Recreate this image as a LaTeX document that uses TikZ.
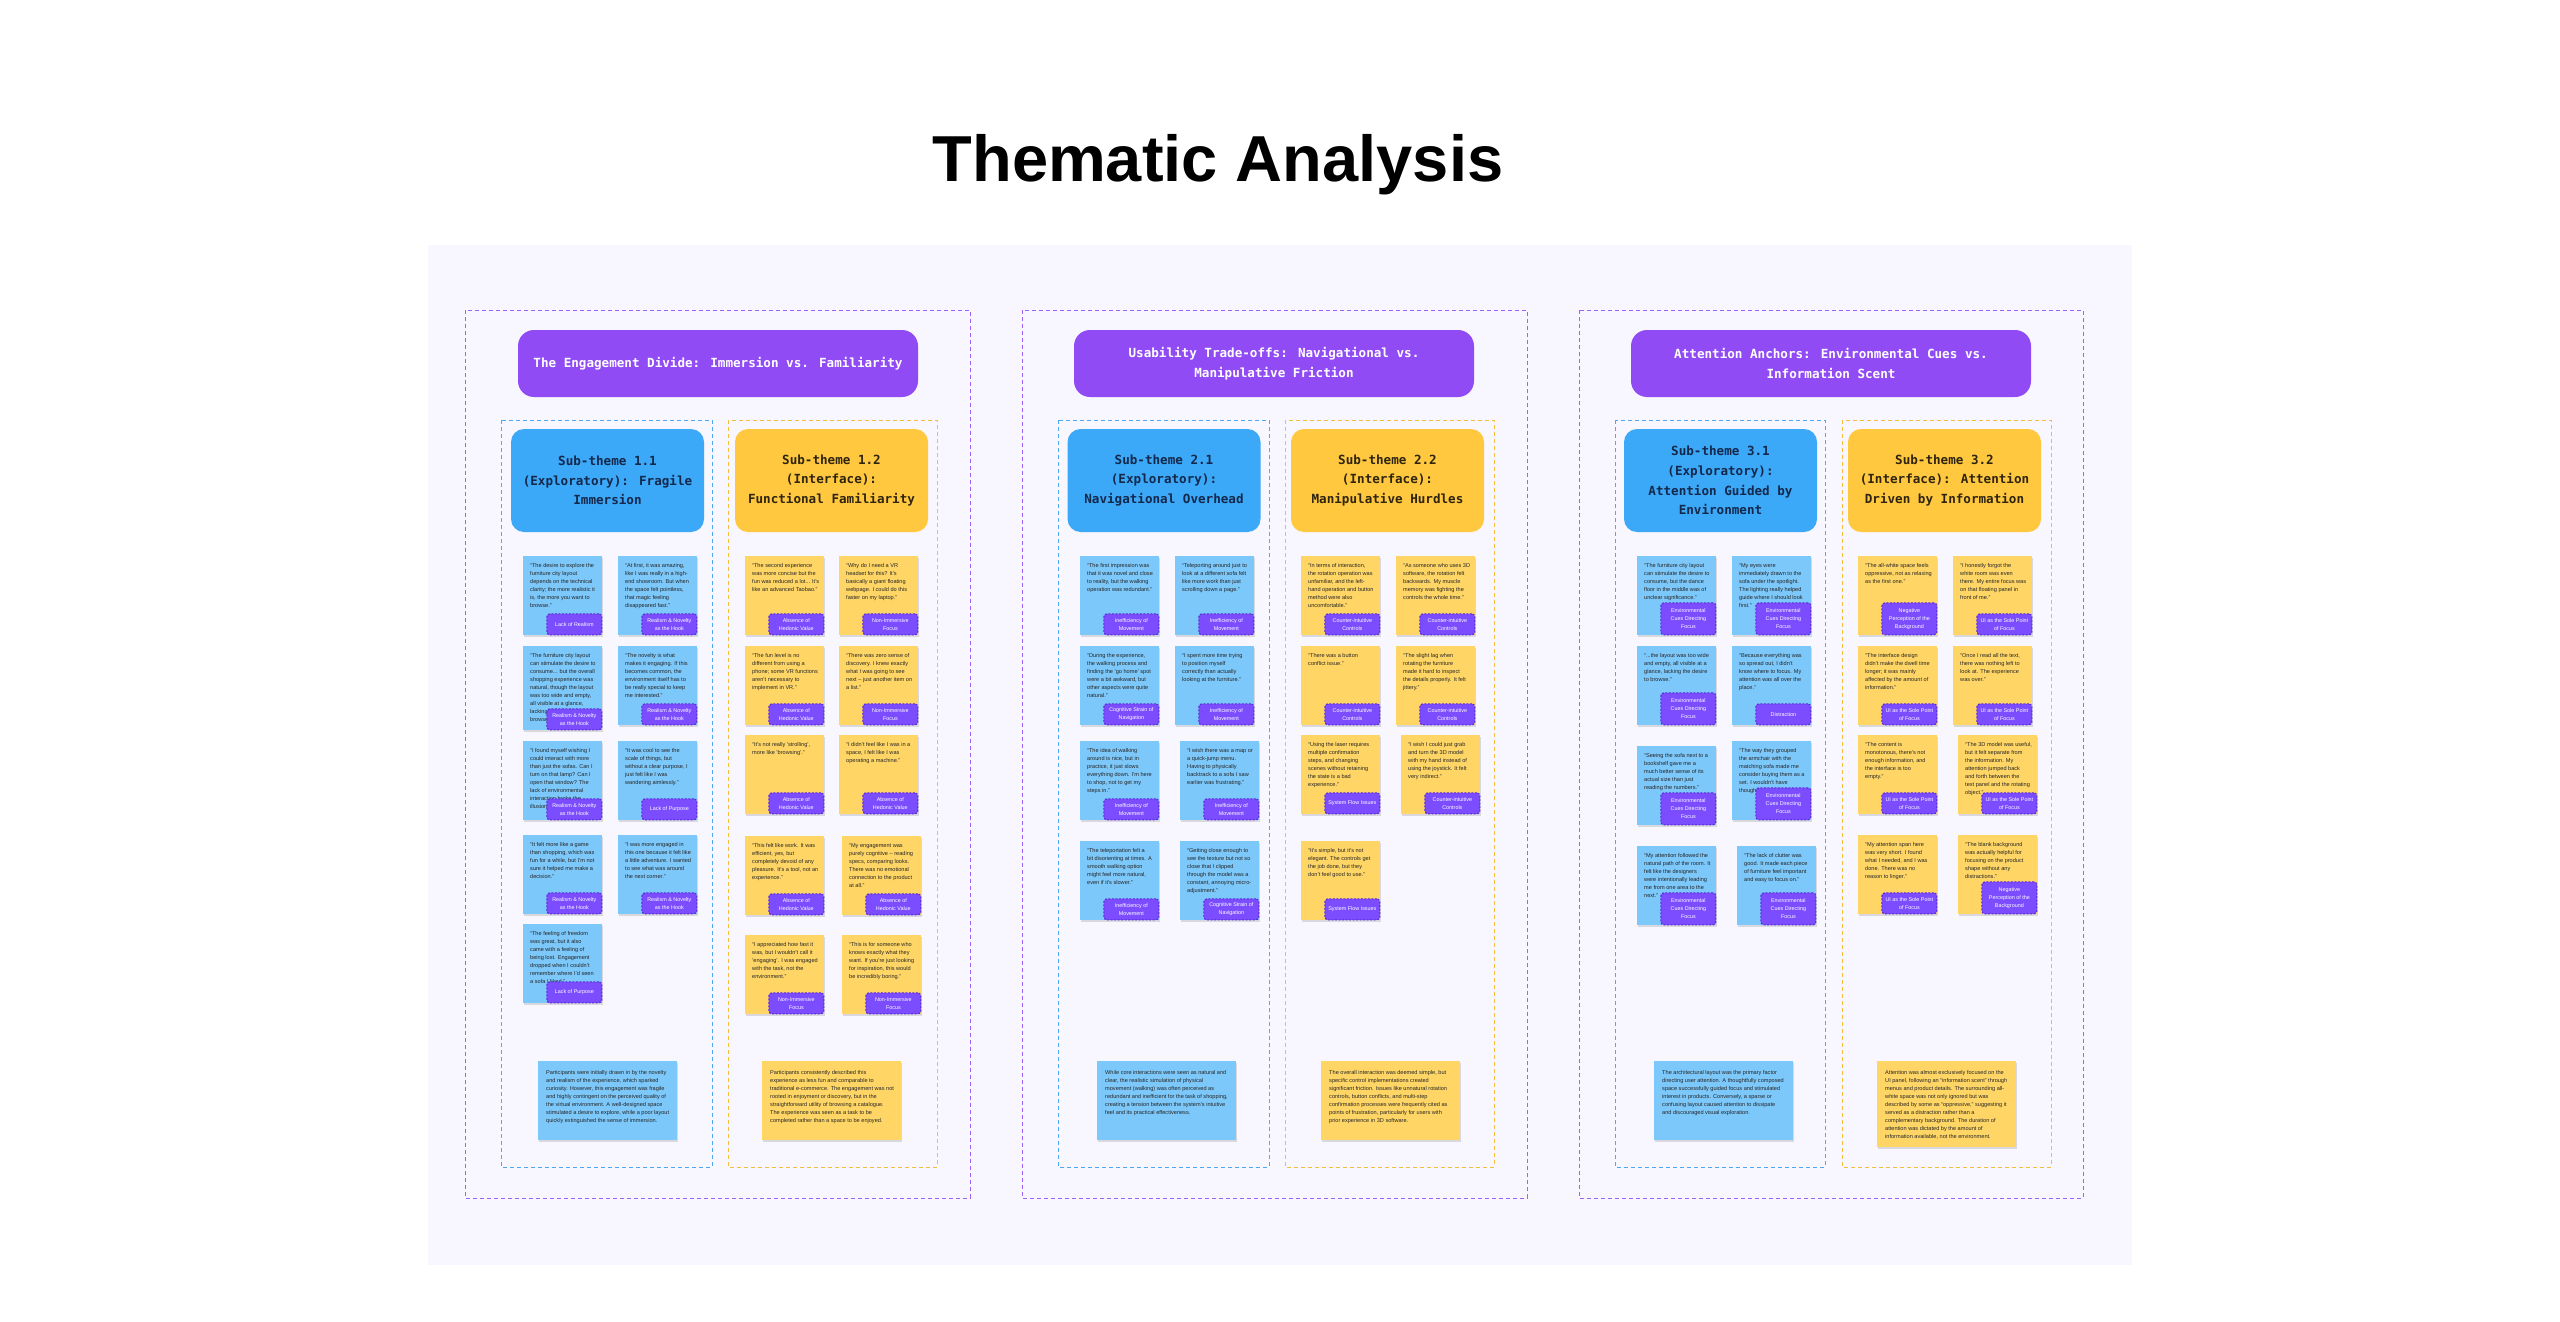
\documentclass[tikz,border=0pt]{standalone}
\usepackage{fontspec}
\setmainfont{Liberation Sans}
\newfontfamily\monof{DejaVu Sans Mono}
\usetikzlibrary{shadows}
\definecolor{panelbg}{HTML}{F8F6FE}
\definecolor{noteblue}{HTML}{7DC8FA}
\definecolor{noteyellow}{HTML}{FFD666}
\definecolor{headblue}{HTML}{3BA9F8}
\definecolor{headyellow}{HTML}{FFC83E}
\definecolor{pillpurple}{HTML}{914BF5}
\definecolor{tagpurple}{HTML}{7C4DFF}
\definecolor{tagdark}{HTML}{5A2BD8}
\definecolor{themedash}{HTML}{9D63F5}
\definecolor{coldashblue}{HTML}{4DA8F2}
\definecolor{coldashyellow}{HTML}{F5BE3C}
\definecolor{notetextc}{HTML}{262626}
\definecolor{navytext}{HTML}{14284B}
\definecolor{browntext}{HTML}{2E2410}
\newcommand{\stk}[8]{%
  \node[#4, minimum height=#5pt, anchor=north west] (#1) at (#2,#3) {};
  \node[notetext, anchor=north west] (#1-t) at ([xshift=7pt,yshift=-7pt]#1.north west) {#6};
  \node[tagbox, minimum height=#8pt, anchor=south east] (#1-g) at (#1.south east) {#7};
}
\begin{document}
\begin{tikzpicture}[x=1pt,y=-1pt,
  notebase/.style={minimum width=79pt, inner sep=0pt, drop shadow={shadow xshift=0.4pt, shadow yshift=-1.6pt, opacity=0.12, fill=black}},
  bnote/.style={notebase, fill=noteblue},
  ynote/.style={notebase, fill=noteyellow},
  notetext/.style={inner sep=0pt, align=left, text=notetextc, font=\fontsize{5.6}{8}\selectfont},
  tagbox/.style={fill=tagpurple, draw=tagdark, dash pattern=on 2pt off 1.5pt, line width=1.1pt, rounded corners=3pt, minimum width=55pt, inner sep=0pt, align=center, text=white, font=\fontsize{5.4}{8}\selectfont},
  sumbox/.style={minimum width=139pt, inner sep=0pt, drop shadow={shadow xshift=0.4pt, shadow yshift=-1.6pt, opacity=0.12, fill=black}},
  pill/.style={fill=pillpurple, rounded corners=16pt, minimum width=400pt, minimum height=67pt, inner sep=0pt, align=center, text=white, font=\monof\bfseries\fontsize{12.6}{19.6}\selectfont},
  bhead/.style={fill=headblue, rounded corners=13pt, minimum width=193pt, minimum height=103pt, inner sep=0pt, align=center, text=navytext, font=\monof\bfseries\fontsize{12.6}{19.6}\selectfont},
  yhead/.style={bhead, fill=headyellow, text=browntext},
  themebox/.style={draw=themedash, dash pattern=on 4pt off 3pt, line width=1pt},
  bcol/.style={draw=coldashblue, dash pattern=on 4pt off 3pt, line width=1pt},
  ycol/.style={draw=coldashyellow, dash pattern=on 4pt off 3pt, line width=1pt}
]
\useasboundingbox (0,0) rectangle (2560,1322);
\fill[white] (0,0) rectangle (2560,1322);
\node[anchor=base, font=\fontsize{65}{78}\selectfont\bfseries] (title) at (1218,181) {Thematic Analysis};
\fill[panelbg] (428,245) rectangle (2132,1265);

% theme boxes
\draw[themebox] (465,310) rectangle (970,1198);
\draw[themebox] (1022,310) rectangle (1527,1198);
\draw[themebox] (1579,310) rectangle (2083,1198);
\node[pill] (th1) at (718,363.5) {The Engagement Divide: Immersion vs. Familiarity};
\node[pill] (th2) at (1274,363.5) {Usability Trade-offs: Navigational vs.\\Manipulative Friction};
\node[pill] (th3) at (1831,363.5) {Attention Anchors: Environmental Cues vs.\\Information Scent};

% sub-theme columns
\draw[bcol] (501,420) rectangle (712,1167);
\draw[ycol] (728,420) rectangle (937,1167);
\draw[bcol] (1058,420) rectangle (1269,1167);
\draw[ycol] (1285,420) rectangle (1494,1167);
\draw[bcol] (1615,420) rectangle (1825,1167);
\draw[ycol] (1842,420) rectangle (2051,1167);
\node[bhead] (st11) at (607.5,480.5) {Sub-theme 1.1\\(Exploratory): Fragile\\Immersion};
\node[yhead] (st12) at (831.5,480.5) {Sub-theme 1.2\\(Interface):\\Functional Familiarity};
\node[bhead] (st21) at (1164,480.5) {Sub-theme 2.1\\(Exploratory):\\Navigational Overhead};
\node[yhead] (st22) at (1387.5,480.5) {Sub-theme 2.2\\(Interface):\\Manipulative Hurdles};
\node[bhead] (st31) at (1720.5,480.5) {Sub-theme 3.1\\(Exploratory):\\Attention Guided by\\Environment};
\node[yhead] (st32) at (1944.5,480.5) {Sub-theme 3.2\\(Interface): Attention\\Driven by Information};

% ---------- column 1.1
\stk{a1}{523}{556}{bnote}{79}{“The desire to explore the\\furniture city layout\\depends on the technical\\clarity; the more realistic it\\is, the more you want to\\browse.”}{Lack of Realism}{21}
\stk{a2}{618}{556}{bnote}{79}{“At first, it was amazing,\\like I was really in a high-\\end showroom. But when\\the space felt pointless,\\that magic feeling\\disappeared fast.”}{Realism \& Novelty\\as the Hook}{21}
\stk{a3}{523}{646}{bnote}{84}{“The furniture city layout\\can stimulate the desire to\\consume... but the overall\\shopping experience was\\natural, though the layout\\was too wide and empty,\\all visible at a glance,\\lacking the desire to\\browse.”}{Realism \& Novelty\\as the Hook}{21}
\stk{a4}{618}{646}{bnote}{79}{“The novelty is what\\makes it engaging. If this\\becomes common, the\\environment itself has to\\be really special to keep\\me interested.”}{Realism \& Novelty\\as the Hook}{21}
\stk{a5}{523}{741}{bnote}{79}{“I found myself wishing I\\could interact with more\\than just the sofas. Can I\\turn on that lamp? Can I\\open that window? The\\lack of environmental\\interaction broke the\\illusion.”}{Realism \& Novelty\\as the Hook}{21}
\stk{a6}{618}{741}{bnote}{79}{“It was cool to see the\\scale of things, but\\without a clear purpose, I\\just felt like I was\\wandering aimlessly.”}{Lack of Purpose}{21}
\stk{a7}{523}{835}{bnote}{79}{“It felt more like a game\\than shopping, which was\\fun for a while, but I'm not\\sure it helped me make a\\decision.”}{Realism \& Novelty\\as the Hook}{21}
\stk{a8}{618}{835}{bnote}{79}{“I was more engaged in\\this one because it felt like\\a little adventure. I wanted\\to see what was around\\the next corner.”}{Realism \& Novelty\\as the Hook}{21}
\stk{a9}{523}{924}{bnote}{79}{“The feeling of freedom\\was great, but it also\\came with a feeling of\\being lost. Engagement\\dropped when I couldn't\\remember where I'd seen\\a sofa I liked.”}{Lack of Purpose}{21}

% ---------- column 1.2
\stk{b1}{745}{556}{ynote}{79}{“The second experience\\was more concise but the\\fun was reduced a lot... It's\\like an advanced Taobao.”}{Absence of\\Hedonic Value}{21}
\stk{b2}{839}{556}{ynote}{79}{“Why do I need a VR\\headset for this? It's\\basically a giant floating\\webpage. I could do this\\faster on my laptop.”}{Non-Immersive\\Focus}{21}
\stk{b3}{745}{646}{ynote}{79}{“The fun level is no\\different from using a\\phone; some VR functions\\aren't necessary to\\implement in VR.”}{Absence of\\Hedonic Value}{21}
\stk{b4}{839}{646}{ynote}{79}{“There was zero sense of\\discovery. I knew exactly\\what I was going to see\\next – just another item on\\a list.”}{Non-Immersive\\Focus}{21}
\stk{b5}{745}{735}{ynote}{79}{“It's not really 'strolling',\\more like 'browsing'.”}{Absence of\\Hedonic Value}{21}
\stk{b6}{839}{735}{ynote}{79}{“I didn't feel like I was in a\\space, I felt like I was\\operating a machine.”}{Absence of\\Hedonic Value}{21}
\stk{b7}{745}{836}{ynote}{79}{“This felt like work. It was\\efficient, yes, but\\completely devoid of any\\pleasure. It's a tool, not an\\experience.”}{Absence of\\Hedonic Value}{21}
\stk{b8}{842}{836}{ynote}{79}{“My engagement was\\purely cognitive – reading\\specs, comparing looks.\\There was no emotional\\connection to the product\\at all.”}{Absence of\\Hedonic Value}{21}
\stk{b9}{745}{935}{ynote}{79}{“I appreciated how fast it\\was, but I wouldn't call it\\'engaging'. I was engaged\\with the task, not the\\environment.”}{Non-Immersive\\Focus}{21}
\stk{b10}{842}{935}{ynote}{79}{“This is for someone who\\knows exactly what they\\want. If you're just looking\\for inspiration, this would\\be incredibly boring.”}{Non-Immersive\\Focus}{21}

% ---------- column 2.1
\stk{c1}{1080}{556}{bnote}{79}{“The first impression was\\that it was novel and close\\to reality, but the walking\\operation was redundant.”}{Inefficiency of\\Movement}{21}
\stk{c2}{1175}{556}{bnote}{79}{“Teleporting around just to\\look at a different sofa felt\\like more work than just\\scrolling down a page.”}{Inefficiency of\\Movement}{21}
\stk{c3}{1080}{646}{bnote}{79}{“During the experience,\\the walking process and\\finding the 'go home' spot\\were a bit awkward, but\\other aspects were quite\\natural.”}{Cognitive Strain of\\Navigation}{21}
\stk{c4}{1175}{646}{bnote}{79}{“I spent more time trying\\to position myself\\correctly than actually\\looking at the furniture.”}{Inefficiency of\\Movement}{21}
\stk{c5}{1080}{741}{bnote}{79}{“The idea of walking\\around is nice, but in\\practice, it just slows\\everything down. I'm here\\to shop, not to get my\\steps in.”}{Inefficiency of\\Movement}{21}
\stk{c6}{1180}{741}{bnote}{79}{“I wish there was a map or\\a quick-jump menu.\\Having to physically\\backtrack to a sofa I saw\\earlier was frustrating.”}{Inefficiency of\\Movement}{21}
\stk{c7}{1080}{841}{bnote}{79}{“The teleportation felt a\\bit disorienting at times. A\\smooth walking option\\might feel more natural,\\even if it's slower.”}{Inefficiency of\\Movement}{21}
\stk{c8}{1180}{841}{bnote}{79}{“Getting close enough to\\see the texture but not so\\close that I clipped\\through the model was a\\constant, annoying micro-\\adjustment.”}{Cognitive Strain of\\Navigation}{21}

% ---------- column 2.2
\stk{d1}{1301}{556}{ynote}{79}{“In terms of interaction,\\the rotation operation was\\unfamiliar, and the left-\\hand operation and button\\method were also\\uncomfortable.”}{Counter-intuitive\\Controls}{21}
\stk{d2}{1396}{556}{ynote}{79}{“As someone who uses 3D\\software, the rotation felt\\backwards. My muscle\\memory was fighting the\\controls the whole time.”}{Counter-intuitive\\Controls}{21}
\stk{d3}{1301}{646}{ynote}{79}{“There was a button\\conflict issue.”}{Counter-intuitive\\Controls}{21}
\stk{d4}{1396}{646}{ynote}{79}{“The slight lag when\\rotating the furniture\\made it hard to inspect\\the details properly. It felt\\jittery.”}{Counter-intuitive\\Controls}{21}
\stk{d5}{1301}{735}{ynote}{79}{“Using the laser requires\\multiple confirmation\\steps, and changing\\scenes without retaining\\the state is a bad\\experience.”}{System Flow Issues}{21}
\stk{d6}{1401}{735}{ynote}{79}{“I wish I could just grab\\and turn the 3D model\\with my hand instead of\\using the joystick. It felt\\very indirect.”}{Counter-intuitive\\Controls}{21}
\stk{d7}{1301}{841}{ynote}{79}{“It's simple, but it's not\\elegant. The controls get\\the job done, but they\\don't feel good to use.”}{System Flow Issues}{21}

% ---------- column 3.1
\stk{e1}{1637}{556}{bnote}{79}{“The furniture city layout\\can stimulate the desire to\\consume, but the dance\\floor in the middle was of\\unclear significance.”}{Environmental\\Cues Directing\\Focus}{32}
\stk{e2}{1732}{556}{bnote}{79}{“My eyes were\\immediately drawn to the\\sofa under the spotlight.\\The lighting really helped\\guide where I should look\\first.”}{Environmental\\Cues Directing\\Focus}{32}
\stk{e3}{1637}{646}{bnote}{79}{“...the layout was too wide\\and empty, all visible at a\\glance, lacking the desire\\to browse.”}{Environmental\\Cues Directing\\Focus}{32}
\stk{e4}{1732}{646}{bnote}{79}{“Because everything was\\so spread out, I didn't\\know where to focus. My\\attention was all over the\\place.”}{Distraction}{21}
\stk{e5}{1637}{746}{bnote}{79}{“Seeing the sofa next to a\\bookshelf gave me a\\much better sense of its\\actual size than just\\reading the numbers.”}{Environmental\\Cues Directing\\Focus}{32}
\stk{e6}{1732}{741}{bnote}{79}{“The way they grouped\\the armchair with the\\matching sofa made me\\consider buying them as a\\set. I wouldn't have\\thought of that.”}{Environmental\\Cues Directing\\Focus}{32}
\stk{e7}{1637}{846}{bnote}{79}{“My attention followed the\\natural path of the room. It\\felt like the designers\\were intentionally leading\\me from one area to the\\next.”}{Environmental\\Cues Directing\\Focus}{32}
\stk{e8}{1737}{846}{bnote}{79}{“The lack of clutter was\\good. It made each piece\\of furniture feel important\\and easy to focus on.”}{Environmental\\Cues Directing\\Focus}{32}

% ---------- column 3.2
\stk{f1}{1858}{556}{ynote}{79}{“The all-white space feels\\oppressive, not as relaxing\\as the first one.”}{Negative\\Perception of the\\Background}{32}
\stk{f2}{1953}{556}{ynote}{79}{“I honestly forgot the\\white room was even\\there. My entire focus was\\on that floating panel in\\front of me.”}{UI as the Sole Point\\of Focus}{21}
\stk{f3}{1858}{646}{ynote}{79}{“The interface design\\didn't make the dwell time\\longer; it was mainly\\affected by the amount of\\information.”}{UI as the Sole Point\\of Focus}{21}
\stk{f4}{1953}{646}{ynote}{79}{“Once I read all the text,\\there was nothing left to\\look at. The experience\\was over.”}{UI as the Sole Point\\of Focus}{21}
\stk{f5}{1858}{735}{ynote}{79}{“The content is\\monotonous, there's not\\enough information, and\\the interface is too\\empty.”}{UI as the Sole Point\\of Focus}{21}
\stk{f6}{1958}{735}{ynote}{79}{“The 3D model was useful,\\but it felt separate from\\the information. My\\attention jumped back\\and forth between the\\text panel and the rotating\\object.”}{UI as the Sole Point\\of Focus}{21}
\stk{f7}{1858}{835}{ynote}{79}{“My attention span here\\was very short. I found\\what I needed, and I was\\done. There was no\\reason to linger.”}{UI as the Sole Point\\of Focus}{21}
\stk{f8}{1958}{835}{ynote}{79}{“The blank background\\was actually helpful for\\focusing on the product\\shape without any\\distractions.”}{Negative\\Perception of the\\Background}{32}

% ---------- summaries
\node[sumbox, fill=noteblue, minimum height=79pt, anchor=north west] (s1) at (538,1061) {};
\node[notetext, anchor=north west] (s1-t) at ([xshift=8pt,yshift=-9pt]s1.north west) {Participants were initially drawn in by the novelty\\and realism of the experience, which sparked\\curiosity. However, this engagement was fragile\\and highly contingent on the perceived quality of\\the virtual environment. A well-designed space\\stimulated a desire to explore, while a poor layout\\quickly extinguished the sense of immersion.};
\node[sumbox, fill=noteyellow, minimum height=79pt, anchor=north west] (s2) at (762,1061) {};
\node[notetext, anchor=north west] (s2-t) at ([xshift=8pt,yshift=-9pt]s2.north west) {Participants consistently described this\\experience as less fun and comparable to\\traditional e-commerce. The engagement was not\\rooted in enjoyment or discovery, but in the\\straightforward utility of browsing a catalogue.\\The experience was seen as a task to be\\completed rather than a space to be enjoyed.};
\node[sumbox, fill=noteblue, minimum height=79pt, anchor=north west] (s3) at (1097,1061) {};
\node[notetext, anchor=north west] (s3-t) at ([xshift=8pt,yshift=-9pt]s3.north west) {While core interactions were seen as natural and\\clear, the realistic simulation of physical\\movement (walking) was often perceived as\\redundant and inefficient for the task of shopping,\\creating a tension between the system's intuitive\\feel and its practical effectiveness.};
\node[sumbox, fill=noteyellow, minimum height=79pt, anchor=north west] (s4) at (1321,1061) {};
\node[notetext, anchor=north west] (s4-t) at ([xshift=8pt,yshift=-9pt]s4.north west) {The overall interaction was deemed simple, but\\specific control implementations created\\significant friction. Issues like unnatural rotation\\controls, button conflicts, and multi-step\\confirmation processes were frequently cited as\\points of frustration, particularly for users with\\prior experience in 3D software.};
\node[sumbox, fill=noteblue, minimum height=79pt, anchor=north west] (s5) at (1654,1061) {};
\node[notetext, anchor=north west] (s5-t) at ([xshift=8pt,yshift=-9pt]s5.north west) {The architectural layout was the primary factor\\directing user attention. A thoughtfully composed\\space successfully guided focus and stimulated\\interest in products. Conversely, a sparse or\\confusing layout caused attention to dissipate\\and discouraged visual exploration.};
\node[sumbox, fill=noteyellow, minimum height=86pt, anchor=north west] (s6) at (1877,1061) {};
\node[notetext, anchor=north west] (s6-t) at ([xshift=8pt,yshift=-9pt]s6.north west) {Attention was almost exclusively focused on the\\UI panel, following an “information scent” through\\menus and product details. The surrounding all-\\white space was not only ignored but was\\described by some as “oppressive,” suggesting it\\served as a distraction rather than a\\complementary background. The duration of\\attention was dictated by the amount of\\information available, not the environment.};
\end{tikzpicture}
\end{document}
